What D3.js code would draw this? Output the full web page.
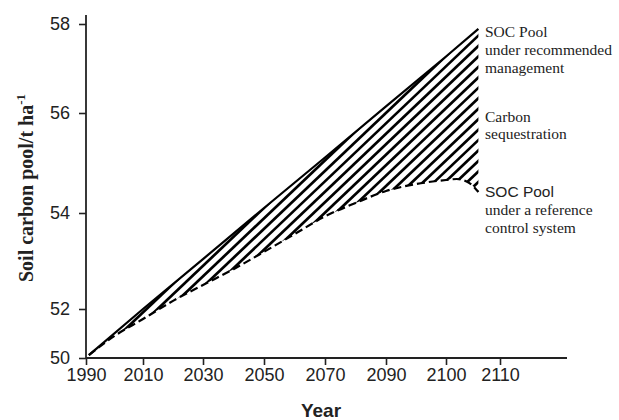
<!DOCTYPE html>
<html>
<head>
<meta charset="utf-8">
<script src="https://cdn.jsdelivr.net/npm/d3@7"></script>
<style>
  html, body { margin: 0; padding: 0; background: #fff; }
  svg { display: block; }
</style>
</head>
<body>
<svg id="chart" width="619" height="420"></svg>
<script>
// axis ticks (the original axes are not evenly scaled, so the scales are piecewise)
const xTickYears = [1990, 2010, 2030, 2050, 2070, 2090, 2100, 2110];
const yTickValues = [50, 52, 54, 56, 58];

// SOC pool under recommended management (solid)
const recYears = [1991, 2010, 2030, 2050, 2070, 2090, 2100, 2106];
const recValues = [50.12, 52.0, 53.04, 54.1, 55.11, 56.15, 57.27, 57.89];

// SOC pool under a reference control system (dashed)
const refYears = [1991, 2000, 2010, 2020, 2030, 2040, 2050, 2060, 2070, 2080, 2090, 2095, 2100, 2102, 2104, 2105, 2106];
const refValues = [50.12, 50.9, 51.59, 52.17, 52.5, 52.83, 53.19, 53.56, 53.93, 54.2, 54.44, 54.58, 54.66, 54.68, 54.62, 54.54, 54.42];

const topLabel = ['SOC Pool', 'under recommended', 'management'];
const midLabel = ['Carbon', 'sequestration'];
const lowLabel = ['SOC Pool', 'under a reference', 'control system'];

const svg = d3.select('#chart');

const axisLeft = 86;
const axisRight = 567;
const axisBottom = 358;
const axisTop = 15;

const x = d3.scaleLinear()
  .domain(xTickYears)
  .range([86, 143, 203, 264, 325, 386, 446, 500]);

const y = d3.scaleLinear()
  .domain(yTickValues)
  .range([358, 309, 213, 113, 24]);

const recPts = recYears.map((d, i) => [x(d), y(recValues[i])]);
const refPts = refYears.map((d, i) => [x(d), y(refValues[i])]);

// hatched region between the two curves
const clipLine = d3.line();
const refCurve = d3.line().curve(d3.curveMonotoneX);
const refPath = refCurve(refPts);

svg.append('clipPath')
  .attr('id', 'seq-clip')
  .append('path')
  .attr('d', clipLine(recPts.concat(refPts.slice().reverse())) + 'Z');

const hatchSlope = 0.95;
const hatchStep = 11;
svg.append('g')
  .attr('clip-path', 'url(#seq-clip)')
  .selectAll('line')
  .data(d3.range(-420, 520, hatchStep))
  .join('line')
  .attr('x1', d => axisLeft + d)
  .attr('y1', axisBottom)
  .attr('x2', d => axisLeft + d + 420)
  .attr('y2', axisBottom - 420 * hatchSlope)
  .attr('stroke', '#000')
  .attr('stroke-width', 2.7);

// curves
svg.append('path')
  .attr('d', d3.line()(recPts))
  .attr('fill', 'none')
  .attr('stroke', '#000')
  .attr('stroke-width', 2.2);

svg.append('path')
  .attr('d', refPath)
  .attr('fill', 'none')
  .attr('stroke', '#000')
  .attr('stroke-width', 2.2)
  .attr('stroke-dasharray', '8,4');

// axes
const sans = 'Liberation Sans, Arial, sans-serif';
const serif = 'Liberation Serif, Times New Roman, serif';

const xAxis = svg.append('g')
  .attr('transform', `translate(0,${axisBottom})`)
  .call(d3.axisBottom(x).tickValues(xTickYears).tickFormat(d3.format('d')).tickSize(7).tickSizeOuter(0));
xAxis.select('.domain').remove();
xAxis.append('line')
  .attr('x1', axisLeft).attr('x2', axisRight)
  .attr('stroke', '#222').attr('stroke-width', 1.8);

const yAxis = svg.append('g')
  .attr('transform', `translate(${axisLeft},0)`)
  .call(d3.axisLeft(y).tickValues(yTickValues).tickSize(7).tickSizeOuter(0));
yAxis.select('.domain').remove();
yAxis.append('line')
  .attr('y1', axisTop).attr('y2', axisBottom)
  .attr('stroke', '#222').attr('stroke-width', 1.8);

svg.selectAll('.tick line').attr('stroke', '#222').attr('stroke-width', 1.6);
svg.selectAll('.tick text')
  .attr('font-family', sans)
  .attr('font-size', 18)
  .attr('fill', '#222');
xAxis.selectAll('.tick text').attr('dy', '0.72em').attr('y', 10);
yAxis.selectAll('.tick text').attr('x', -16);

svg.append('text')
  .attr('x', 321)
  .attr('y', 417)
  .attr('text-anchor', 'middle')
  .attr('font-family', sans)
  .attr('font-weight', 'bold')
  .attr('font-size', 19)
  .attr('fill', '#222')
  .text('Year');

const yTitle = svg.append('text')
  .attr('transform', 'translate(33,188) rotate(-90)')
  .attr('text-anchor', 'middle')
  .attr('font-family', serif)
  .attr('font-weight', 'bold')
  .attr('font-size', 20)
  .attr('fill', '#222');
yTitle.append('tspan').text('Soil carbon pool/t ha');
yTitle.append('tspan').attr('dy', -8).attr('font-size', 13).text('-1');

// annotations
function block(lines, top, firstSans) {
  svg.append('g')
    .selectAll('text')
    .data(lines)
    .join('text')
    .attr('x', 485)
    .attr('y', (d, i) => top + i * 17.8)
    .attr('font-family', (d, i) => (firstSans && i === 0) ? sans : serif)
    .attr('font-size', 15.5)
    .attr('fill', '#222')
    .text(d => d);
}
block(topLabel, 37, false);
block(midLabel, 121.5, false);
block(lowLabel, 197, true);
</script>
</body>
</html>
